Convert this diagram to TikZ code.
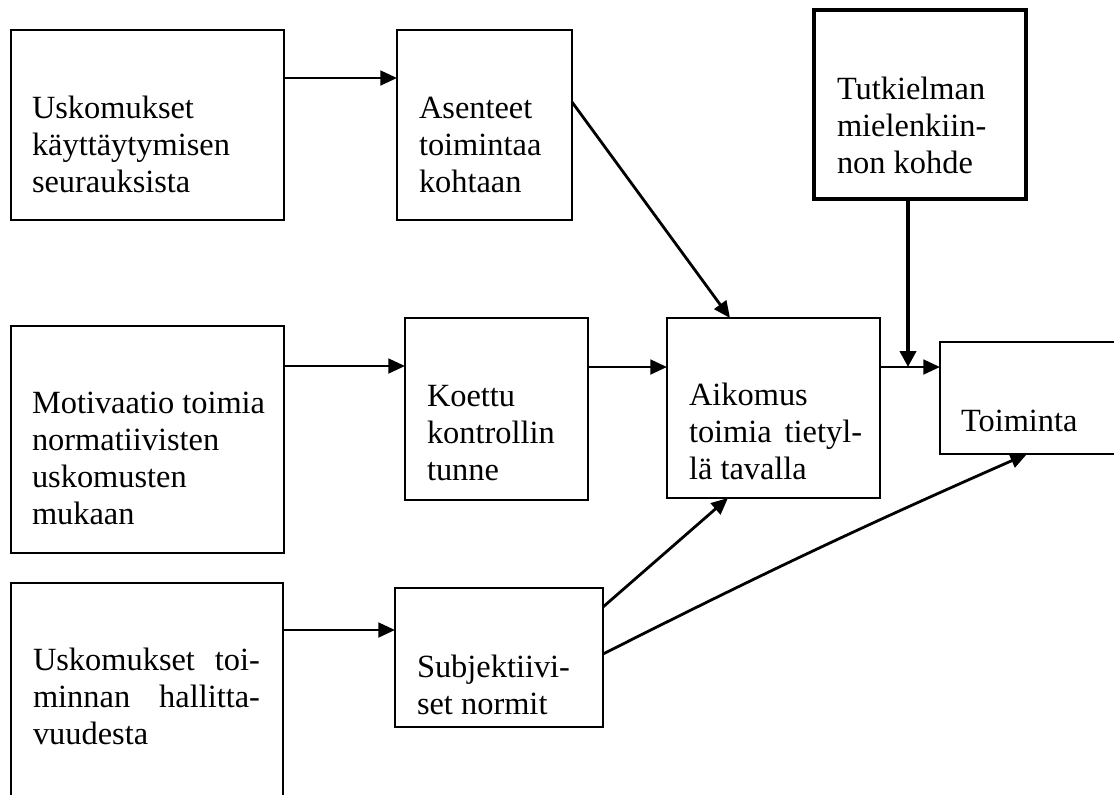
\documentclass[tikz,border=0pt]{standalone}
\usepackage{fontspec}
\setmainfont{Liberation Serif}
\usetikzlibrary{arrows.meta,calc}
\tikzset{
  box/.style={draw, line width=1.1pt, inner sep=0pt, outer sep=0pt, anchor=north west},
  thickbox/.style={box, line width=2.8pt},
  lbl/.style={anchor=base west, inner sep=0pt, outer sep=0pt, font=\fontsize{24.3pt}{27.75pt}\selectfont},
  arr/.style={line width=2.1pt, -{Triangle[length=12.5pt,width=11pt]}},
  thickarr/.style={line width=3pt, -{Triangle[length=12pt,width=12pt]}},
}
\newcommand{\boxtext}[2]{\parbox[t]{#1}{\raggedright #2}}
\begin{document}
\begin{tikzpicture}[x=0.75pt,y=-0.75pt]
\useasboundingbox (0,0) rectangle (1114,794);
\clip (0,0) rectangle (1114,794);
% boxes
\node[box, minimum width=204.75pt, minimum height=142.5pt] (b1) at (11,30) {};
\node[box, minimum width=131.25pt, minimum height=142.5pt] (b2) at (397,30) {};
\node[thickbox, minimum width=159pt, minimum height=141.75pt] (b3) at (814,10) {};
\node[box, minimum width=204.75pt, minimum height=170.25pt] (b4) at (11,326) {};
\node[box, minimum width=137.25pt, minimum height=136.5pt] (koe) at (405,318) {};
\node[box, minimum width=159.75pt, minimum height=135pt] (aik) at (667,318) {};
\node[box, minimum width=150pt, minimum height=84pt] (toi) at (940,342) {};
\node[box, minimum width=204pt, minimum height=172.5pt] (b7) at (11,583) {};
\node[box, minimum width=156pt, minimum height=104.25pt] (subj) at (395,588) {};
% texts
\node[lbl] (t1) at (32,118) {\boxtext{200pt}{Uskomukset\\käyttäytymisen\\seurauksista}};
\node[lbl] (t2) at (419,118) {\boxtext{120pt}{Asenteet\\toimintaa\\kohtaan}};
\node[lbl] (t3) at (837,99) {\boxtext{150pt}{Tutkielman\\mielenkiin-\\non kohde}};
\node[lbl] (t4) at (32,413) {\boxtext{200pt}{Motivaatio toimia\\normatiivisten\\uskomusten\\mukaan}};
\node[lbl] (t5) at (427,406) {\boxtext{120pt}{Koettu\\kontrollin\\tunne}};
\node[lbl] (t6) at (689,405) {\boxtext{129.75pt}{Aikomus\\\makebox[\linewidth][s]{toimia tietyl-}\\lä tavalla}};
\node[lbl] (t7) at (961,431) {Toiminta};
\node[lbl] (t8) at (33,670) {\boxtext{170.25pt}{\makebox[\linewidth][s]{Uskomukset toi-}\\\makebox[\linewidth][s]{minnan hallitta-}\\vuudesta}};
\node[lbl] (t9) at (417,677) {\boxtext{150pt}{Subjektiivi-\\set normit}};
% connectors
\draw[arr] ($(b1.north east)+(0,48)$) -- ($(b2.north west)+(0,48)$);
\draw[arr] ($(b2.north east)+(0,72)$) -- ($(aik.north west)+(63,0)$);
\draw[arr] ($(b4.north east)+(0,40)$) -- ($(koe.north west)+(0,48)$);
\draw[arr] ($(koe.north east)+(0,49)$) -- ($(aik.north west)+(0,49)$);
\coordinate (join) at ($(aik.north east)+(28,49)$);
\draw[arr] ($(aik.north east)+(0,49)$) -- ($(toi.north west)+(0,25)$);
\draw[thickarr] (b3.south -| join) -- (join);
\draw[arr] ($(b7.north east)+(0,47)$) -- ($(subj.north west)+(0,42)$);
\draw[arr] ($(subj.north east)+(0,19)$) -- ($(aik.south west)+(61,0)$);
\draw[arr] ($(subj.north east)+(0,66)$) to[bend left=1.5] ($(toi.south west)+(87,0)$);
\end{tikzpicture}
\end{document}
